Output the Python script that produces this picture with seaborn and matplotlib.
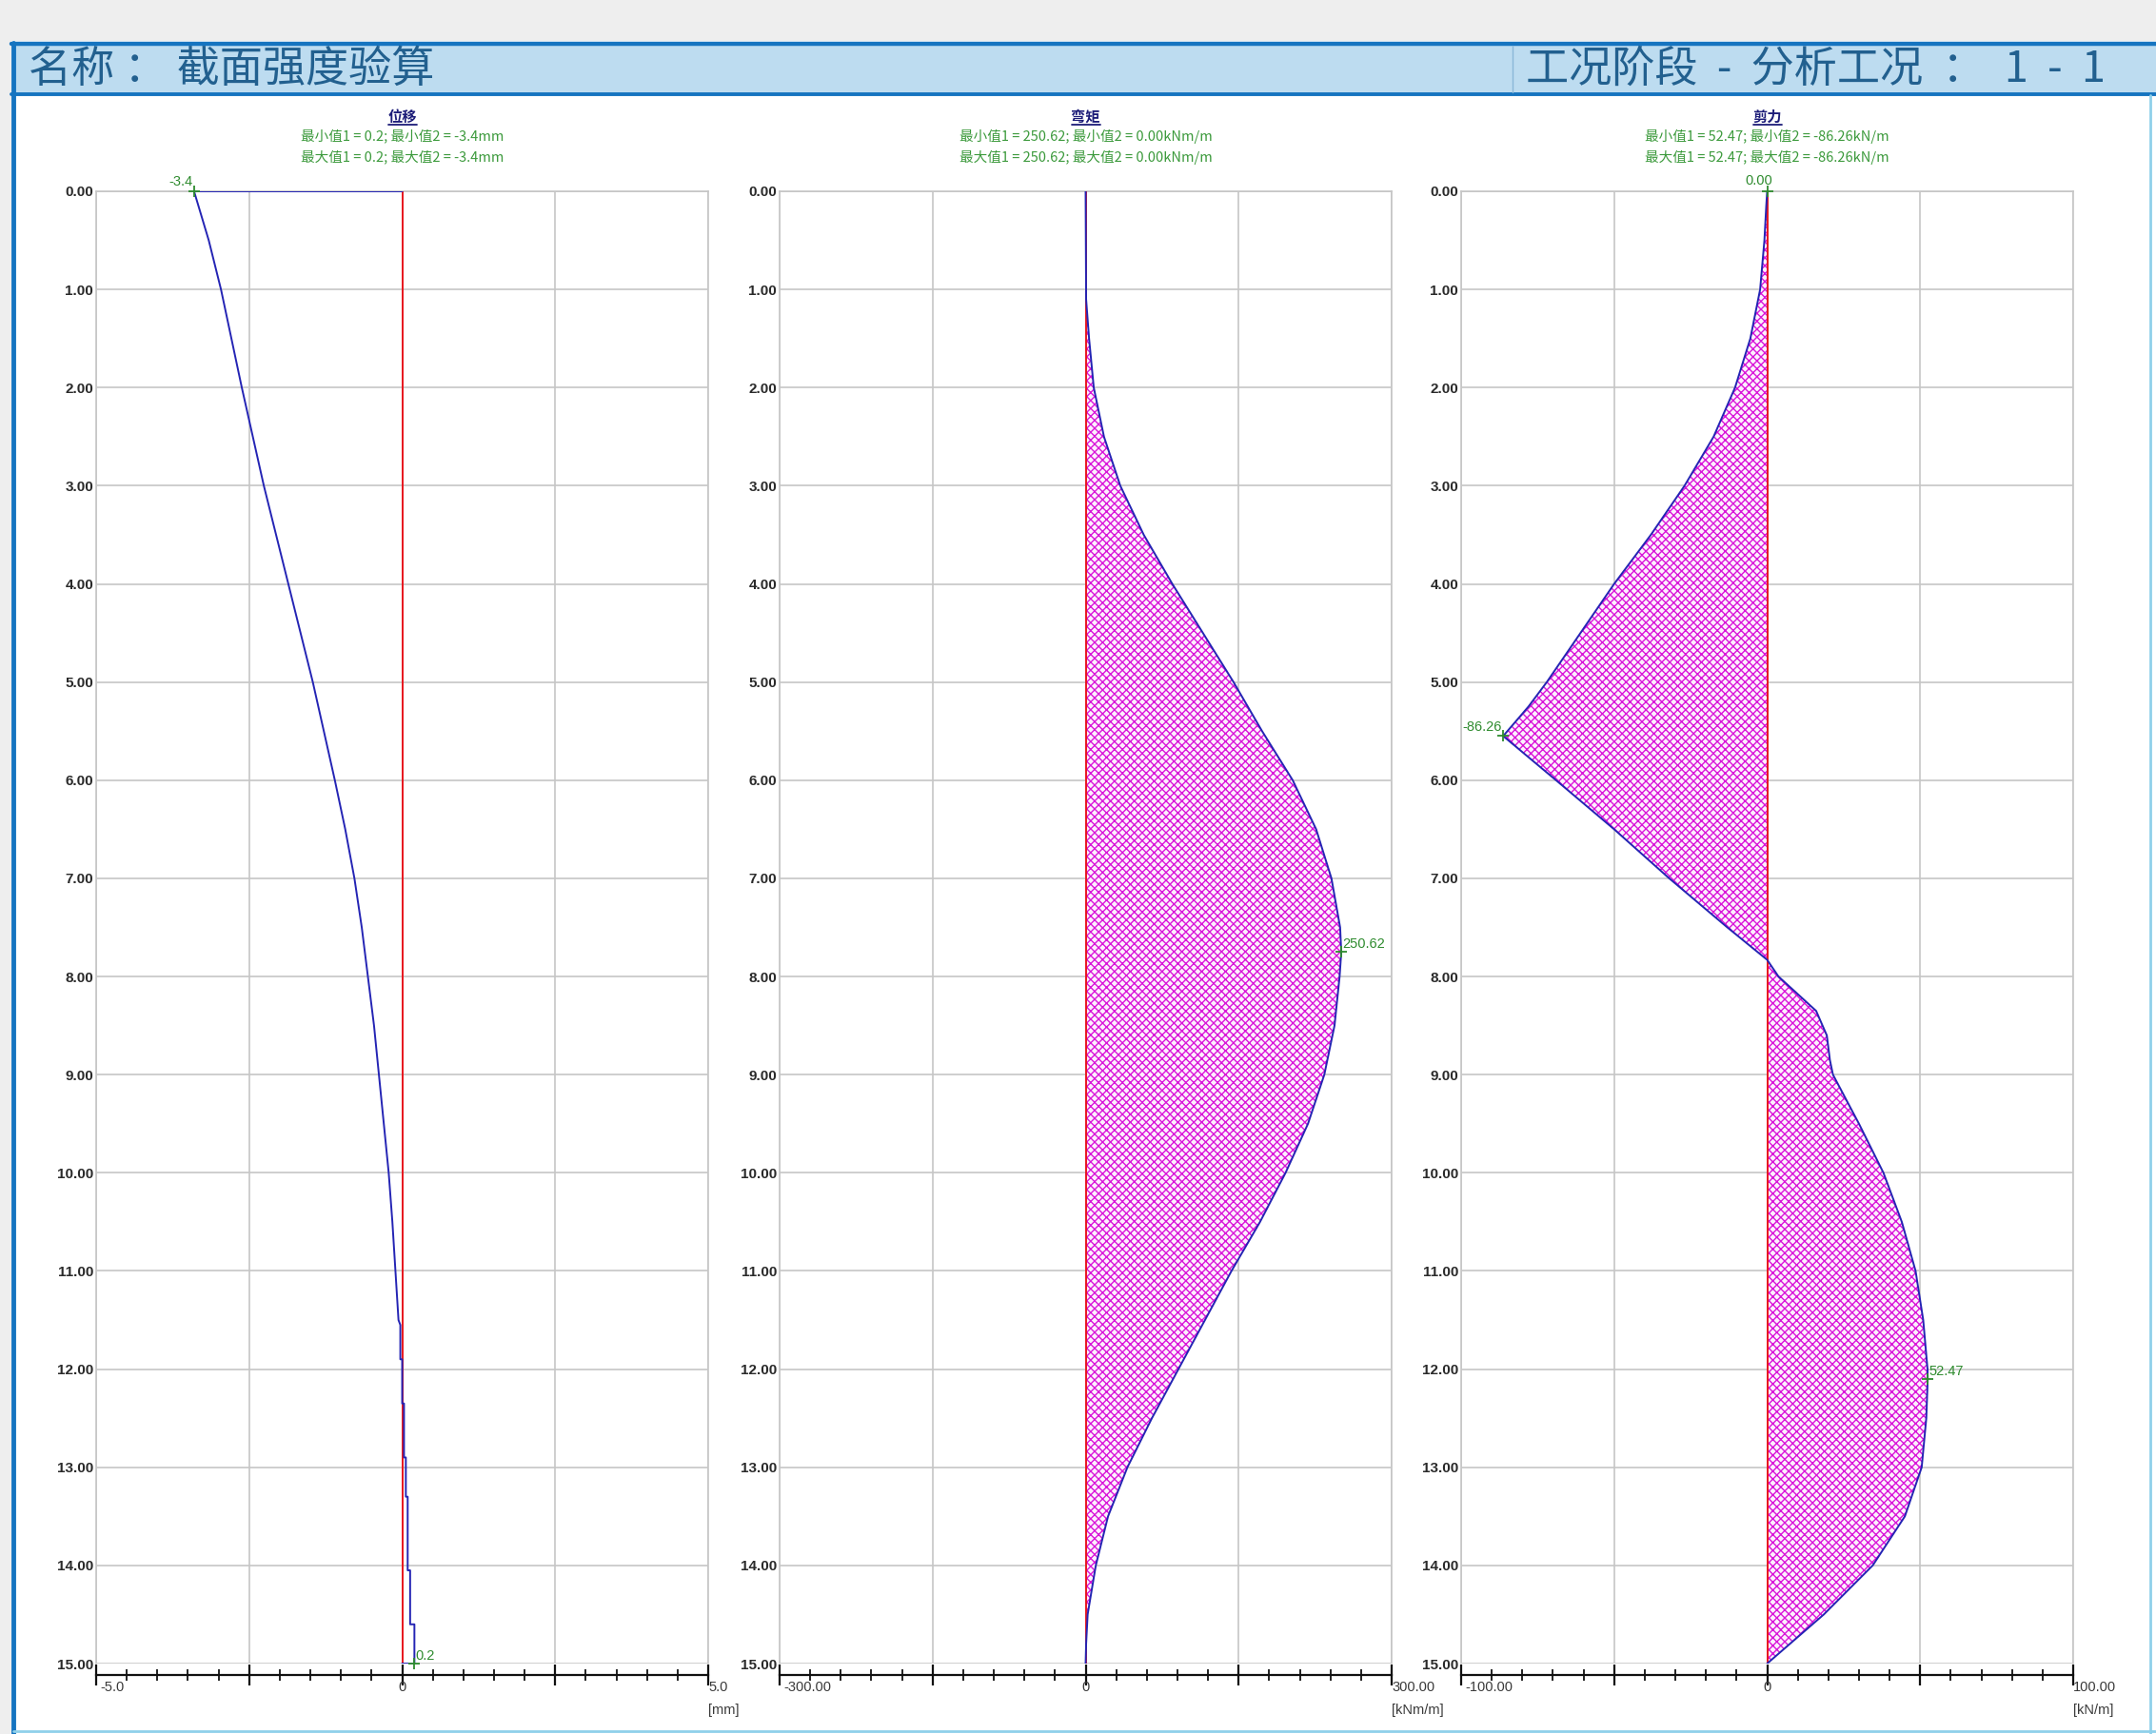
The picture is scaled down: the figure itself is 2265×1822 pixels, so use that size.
import matplotlib
matplotlib.use("Agg")
import matplotlib.pyplot as plt
from matplotlib.patches import Rectangle
from matplotlib.lines import Line2D
from matplotlib.ticker import MultipleLocator
import seaborn as sns

# ---------------- data ----------------
# wall displacement (mm) along depth (m)
disp_depth = [0.0, 0.0, 0.5, 1.0, 1.5, 2.0, 2.5, 3.0, 3.5, 4.0, 4.5, 5.0, 5.5, 6.0,
              6.5, 7.0, 7.5, 8.0, 8.5, 9.0, 9.5, 10.0, 10.5, 11.0, 11.5, 11.55,
              11.9, 11.9, 12.35, 12.35, 12.9, 12.9, 13.3, 13.3, 14.05, 14.05,
              14.6, 14.6, 15.0, 15.0]
disp_value = [0.0, -3.4, -3.16, -2.96, -2.79, -2.62, -2.44, -2.26, -2.06, -1.86,
              -1.66, -1.46, -1.28, -1.10, -0.93, -0.78, -0.66, -0.56, -0.46, -0.38,
              -0.30, -0.22, -0.16, -0.11, -0.06, -0.03, -0.03, 0.0, 0.0, 0.03,
              0.03, 0.06, 0.06, 0.09, 0.09, 0.13, 0.13, 0.2, 0.2, 0.0]

# bending moment (kNm/m)
moment_depth = [0.0, 1.1, 1.5, 2.0, 2.5, 3.0, 3.5, 4.0, 4.5, 5.0, 5.5, 6.0, 6.5,
                7.0, 7.5, 7.75, 8.0, 8.5, 9.0, 9.5, 10.0, 10.5, 11.0, 11.5, 12.0,
                12.5, 13.0, 13.5, 14.0, 14.5, 14.8, 15.0]
moment_value = [0.0, 0.5, 3.4, 8.0, 18.0, 34.0, 57.0, 85.0, 115.0, 145.0, 173.0,
                203.0, 226.0, 241.0, 249.5, 250.62, 249.0, 244.0, 234.0, 218.0,
                196.0, 171.0, 143.0, 117.0, 91.0, 65.0, 41.0, 22.0, 10.0, 2.0,
                0.5, 0.0]

# shear force (kN/m)
shear_depth = [0.0, 0.15, 0.5, 1.0, 1.5, 2.0, 2.5, 3.0, 3.5, 4.0, 4.5, 5.0, 5.25,
               5.55, 6.0, 6.5, 7.0, 7.5, 7.83, 8.0, 8.35, 8.6, 8.85, 9.0, 9.5,
               10.0, 10.5, 11.0, 11.5, 12.0, 12.1, 12.5, 13.0, 13.5, 14.0, 14.5,
               15.0]
shear_value = [0.0, -0.3, -0.9, -2.3, -5.5, -10.5, -17.5, -27.0, -38.0, -50.0,
               -61.0, -72.0, -78.0, -86.26, -69.0, -50.0, -32.0, -13.0, 0.0, 3.7,
               16.0, 19.5, 20.5, 21.5, 30.0, 38.0, 44.0, 48.5, 51.0, 52.4, 52.47,
               52.0, 50.5, 45.0, 34.5, 18.5, 0.0]

panel_titles = ["位移", "弯矩", "剪力"]
panel_stats_min = ["最小值1 = 0.2; 最小值2 = -3.4mm",
                   "最小值1 = 250.62; 最小值2 = 0.00kNm/m",
                   "最小值1 = 52.47; 最小值2 = -86.26kN/m"]
panel_stats_max = ["最大值1 = 0.2; 最大值2 = -3.4mm",
                   "最大值1 = 250.62; 最大值2 = 0.00kNm/m",
                   "最大值1 = 52.47; 最大值2 = -86.26kN/m"]
panel_units = ["[mm]", "[kNm/m]", "[kN/m]"]
x_half_range = [5.0, 300.0, 100.0]
x_end_labels = [("-5.0", "0", "5.0"), ("-300.00", "0", "300.00"),
                ("-100.00", "0", "100.00")]
depth_ticks = list(range(0, 16))

# extreme-value markers: (panel, value, depth, label)
peak_marks = [
    (0, -3.4, 0.0, "-3.4"),
    (0, 0.2, 15.0, "0.2"),
    (1, 250.62, 7.75, "250.62"),
    (2, 0.0, 0.0, "0.00"),
    (2, -86.26, 5.55, "-86.26"),
    (2, 52.47, 12.1, "52.47"),
]

header_left = "名称 ： 截面强度验算"
header_right = "工况阶段  -  分析工况  ：  1  -  1"

# ---------------- style ----------------
sns.set_style("white")
plt.rcParams["font.family"] = ["Liberation Sans", "Noto Sans CJK SC", "DejaVu Sans"]
plt.rcParams["hatch.linewidth"] = 1.0
plt.rcParams["xtick.bottom"] = True

W, H = 2265, 1822
fig = plt.figure(figsize=(W / 100, H / 100), dpi=100, facecolor="white")


def fx(px):
    return px / W


def fy(py):
    return 1 - py / H


CJK = ["Noto Sans CJK SC", "DejaVu Sans"]

# window chrome: grey strip, frame and header band
fig.add_artist(Rectangle((0, fy(43)), 1, 43 / H, transform=fig.transFigure,
                         facecolor="#eeeeee", edgecolor="none", zorder=0))
fig.add_artist(Rectangle((0, 0), fx(12), fy(43), transform=fig.transFigure,
                         facecolor="#eeeeee", edgecolor="none", zorder=0))
fig.add_artist(Rectangle((fx(14), fy(100)), 1 - fx(14), 55 / H,
                         transform=fig.transFigure, facecolor="#bddcf0",
                         edgecolor="none", zorder=1))
for y0, lw in [(46, 3.2), (99, 2.8)]:
    fig.add_artist(Line2D([fx(12), 1], [fy(y0), fy(y0)], transform=fig.transFigure,
                          color="#1574c0", lw=lw, zorder=2))
fig.add_artist(Line2D([fx(14), fx(14)], [fy(45), 0], transform=fig.transFigure,
                      color="#1574c0", lw=3.5, zorder=2))
fig.add_artist(Line2D([fx(2259), fx(2259)], [fy(100), 0], transform=fig.transFigure,
                      color="#8fd0ea", lw=2.0, zorder=2))
fig.add_artist(Line2D([fx(14), 1], [fy(1819), fy(1819)], transform=fig.transFigure,
                      color="#8fd0ea", lw=2.0, zorder=2))
fig.add_artist(Line2D([fx(1589), fx(1589)], [fy(48), fy(97)], transform=fig.transFigure,
                      color="#8ab8d8", lw=1.0, zorder=2))
fig.text(fx(30), fy(73), header_left, ha="left", va="center", fontsize=32.5,
         color="#22608f", family=CJK, fontweight="medium", zorder=3)
fig.text(fx(1603), fy(73), header_right, ha="left", va="center", fontsize=32.5,
         color="#22608f", family=CJK, fontweight="medium", zorder=3)

# ---------------- panels ----------------
panel_left_px = [101, 819, 1535]
axes_w_px = 643
axes_top_px, axes_bot_px = 201, 1748

series = [(disp_value, disp_depth), (moment_value, moment_depth),
          (shear_value, shear_depth)]

axes = []
for i in range(3):
    ax = fig.add_axes([fx(panel_left_px[i]), fy(axes_bot_px), axes_w_px / W,
                       (axes_bot_px - axes_top_px) / H])
    axes.append(ax)
    lim = x_half_range[i]
    vals, deps = series[i]

    if i > 0:
        ax.fill_betweenx(deps, 0, vals, facecolor="#fdf0fd", edgecolor="#d916d9",
                         hatch="xxxx", linewidth=0, zorder=2)
    ax.plot([0, 0], [0, 15], color="#e8161e", lw=1.4, zorder=3)
    sns.lineplot(x=vals, y=deps, sort=False, estimator=None, color="#2424b4",
                 lw=1.4, ax=ax, zorder=4)

    ax.set_xlim(-lim, lim)
    ax.set_ylim(15, 0)
    ax.set_xticks([-lim, -lim / 2, 0, lim / 2, lim])
    ax.xaxis.set_minor_locator(MultipleLocator(lim / 10))
    ax.set_yticks(depth_ticks)
    ax.set_yticklabels([f"{d:.2f}" for d in depth_ticks], fontweight="bold",
                       fontsize=11, color="#2a2a2a")
    ax.tick_params(axis="y", length=0, pad=2)
    ax.tick_params(axis="x", which="both", bottom=True, top=False)
    ax.tick_params(axis="x", which="major", direction="inout", length=16,
                   width=1.6, color="#111111", labelbottom=False)
    ax.tick_params(axis="x", which="minor", direction="inout", length=9,
                   width=1.3, color="#111111")
    ax.grid(True, which="major", color="#c6c6c6", lw=1.2, zorder=0)
    ax.set_axisbelow(True)
    for side in ["left", "top", "right"]:
        ax.spines[side].set_color("#c6c6c6")
        ax.spines[side].set_linewidth(1.2)
    ax.spines["bottom"].set_position(("outward", 8.5))
    ax.spines["bottom"].set_color("#111111")
    ax.spines["bottom"].set_linewidth(1.6)
    ax.set_xlabel("")
    ax.set_ylabel("")

    # ruler labels under the axis
    lo, mid, hi = x_end_labels[i]
    lab_kw = dict(xycoords=("data", "axes fraction"), textcoords="offset points",
                  va="center", fontsize=10.5, color="#3a3a3a", annotation_clip=False)
    ax.annotate(lo, xy=(-lim, 0), xytext=(3, -18), ha="left", **lab_kw)
    ax.annotate(mid, xy=(0, 0), xytext=(0, -18), ha="center", **lab_kw)
    ax.annotate(hi, xy=(lim, 0), xytext=(0, -18), ha="left", **lab_kw)
    ax.annotate(panel_units[i], xy=(lim, 0), xytext=(0, -35), ha="left", **lab_kw)

    # titles
    cx = fx(panel_left_px[i] + axes_w_px / 2)
    fig.text(cx, fy(123), panel_titles[i], ha="center", va="center", fontsize=11,
             fontweight="bold", color="#1c1c78", family=CJK)
    fig.add_artist(Line2D([cx - fx(15), cx + fx(15)], [fy(131), fy(131)],
                          transform=fig.transFigure, color="#1c1c78", lw=1.3))
    fig.text(cx, fy(143), panel_stats_min[i], ha="center", va="center",
             fontsize=10.5, color="#3c9a3c", family=CJK)
    fig.text(cx, fy(165), panel_stats_max[i], ha="center", va="center",
             fontsize=10.5, color="#3c9a3c", family=CJK)

# extreme-value labels
for p, v, d, txt in peak_marks:
    ax = axes[p]
    ax.plot([v], [d], marker="+", ms=8, mew=1.3, color="#2e8b2e", zorder=6,
            clip_on=False)
    if txt in ("-3.4", "-86.26"):
        off, ha = (-1, 2), "right"
    elif txt == "0.00":
        off, ha = (-6, 3), "center"
    else:
        off, ha = (1, 1), "left"
    ax.annotate(txt, xy=(v, d), xytext=off, textcoords="offset points", ha=ha,
                va="bottom", fontsize=10.5, color="#2e8b2e", zorder=7,
                annotation_clip=False)

fig.savefig("out.png", dpi=100, facecolor=fig.get_facecolor())
